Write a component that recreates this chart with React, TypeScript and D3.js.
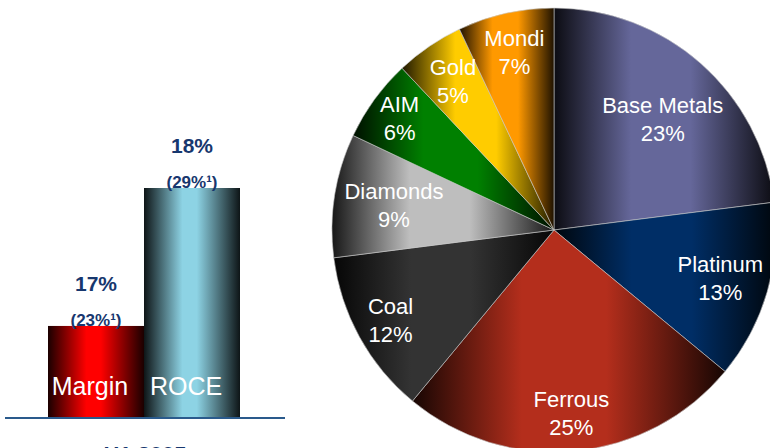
import React from "react";
import * as d3 from "d3";

// ---- data ----
const segments = ["Base Metals", "Platinum", "Ferrous", "Coal", "Diamonds", "AIM", "Gold", "Mondi"];
const segmentShares = [23, 13, 25, 12, 9, 6, 5, 7];
const segmentColors = ["#65679A", "#002E66", "#B42E1C", "#333333", "#BEBEBE", "#008000", "#FFCC00", "#FF9900"];
const labelRadiusFactor = [0.7, 0.78, 0.83, 0.84, 0.73, 0.86, 0.81, 0.82];
const labelAngleShift = [3, 0, 0, 0, 0, 0, 0, 0];

const barCategories = ["Margin", "ROCE"];
const barValues = [17, 18];
const barNotes = ["(23%¹)", "(29%¹)"];
const barColors = ["#FF0000", "#8DD3E4"];
const periodLabel = "H1 2005";

const W = 770;
const H = 448;
const NAVY = "#17376E";
const FONT = "'Liberation Sans', Arial, sans-serif";

function darken(c: string, t: number) {
  return d3.interpolateRgb(c, "#000")(t);
}

export default function App() {
  // pie
  const cx = 554, cy = 230, r = 222;
  const pie = d3.pie<number>().sort(null).value((d) => d);
  const arcs = pie(segmentShares);
  const arcGen = d3.arc<d3.PieArcDatum<number>>().innerRadius(0).outerRadius(r);

  // bars
  const x = d3.scaleBand<string>().domain(barCategories).range([48, 240]).padding(0);
  const y = d3.scaleLinear().domain([16.34, 18]).range([417, 188]);
  const baseY = 417;

  return (
    <svg width={W} height={H} style={{ position: "absolute", left: 0, top: 0, background: "#fff" }} fontFamily={FONT}>
      <defs>
        {segmentColors.map((c, i) => (
          <linearGradient key={i} id={`pg${i}`} x1="0" x2="1" y1="0" y2="0">
            <stop offset="0" stopColor={darken(c, 0.88)} />
            <stop offset="0.35" stopColor={c} />
            <stop offset="0.62" stopColor={c} />
            <stop offset="1" stopColor={darken(c, 0.88)} />
          </linearGradient>
        ))}
        {barColors.map((c, i) => (
          <linearGradient key={i} id={`bg${i}`} x1="0" x2="1" y1="0" y2="0">
            <stop offset="0" stopColor={darken(c, 0.9)} />
            <stop offset="0.4" stopColor={c} />
            <stop offset="0.55" stopColor={c} />
            <stop offset="1" stopColor={darken(c, 0.9)} />
          </linearGradient>
        ))}
      </defs>

      {/* Bar chart */}
      <g>
        {barCategories.map((cat, i) => {
          const bx = x(cat)!;
          const bw = x.bandwidth();
          const top = y(barValues[i]);
          const mid = bx + bw / 2;
          return (
            <g key={cat}>
              <rect x={bx} y={top} width={bw} height={baseY - top} fill={`url(#bg${i})`} />
              <text x={mid} y={top - 35} textAnchor="middle" fontWeight="bold" fontSize={21} fill={NAVY}>
                {barValues[i]}%
              </text>
              <text x={mid} y={top} textAnchor="middle" fontWeight="bold" fontSize={17} fill={NAVY}>
                {barNotes[i]}
              </text>
              <text x={mid - 6} y={395} textAnchor="middle" fontSize={25} fill="#fff">
                {cat}
              </text>
            </g>
          );
        })}
        <line x1={5} x2={285} y1={418} y2={418} stroke="#2A5A8C" strokeWidth={2} />
        <text x={145} y={462} textAnchor="middle" fontWeight="bold" fontSize={22} fill={NAVY}>
          {periodLabel}
        </text>
      </g>

      {/* Pie chart */}
      <g transform={`translate(${cx},${cy})`}>
        {arcs.map((a, i) => (
          <path key={i} d={arcGen(a)!} fill={`url(#pg${i})`} stroke="#c8c8c8" strokeWidth={0.6} />
        ))}
        {arcs.map((a, i) => {
          const ang = (a.startAngle + a.endAngle) / 2 + (labelAngleShift[i] * Math.PI) / 180;
          const rr = r * labelRadiusFactor[i];
          const lx = Math.sin(ang) * rr;
          const ly = -Math.cos(ang) * rr;
          return (
            <text key={i} x={lx} y={ly} textAnchor="middle" fontSize={22} fill="#fff">
              <tspan x={lx} dy={-6}>{segments[i]}</tspan>
              <tspan x={lx} dy={28}>{segmentShares[i]}%</tspan>
            </text>
          );
        })}
      </g>
    </svg>
  );
}
